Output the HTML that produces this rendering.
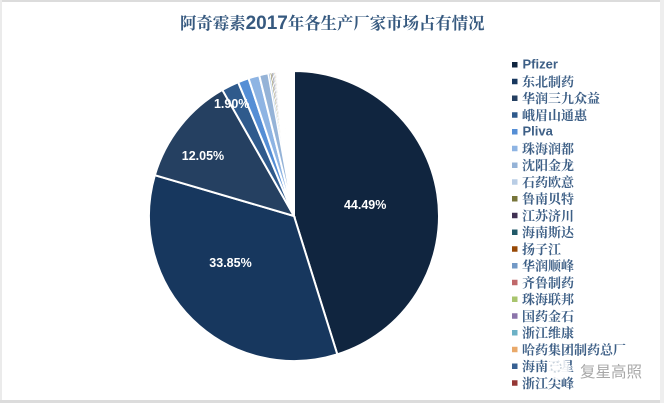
<!DOCTYPE html>
<html>
<head>
<meta charset="utf-8">
<style>
html,body{margin:0;padding:0;background:#fff;}
#chart{position:absolute;left:0;top:0;width:664px;height:403px;overflow:hidden;}
svg{display:block;}
</style>
</head>
<body>
<div id="chart">
<svg id="svg" width="664" height="403" viewBox="0 0 664 403" xmlns="http://www.w3.org/2000/svg">
  <rect x="0" y="0" width="664" height="403" fill="#ffffff"/>
  <rect x="0" y="0" width="664" height="2" fill="#dcdcdc"/>
  <rect x="0" y="0" width="2" height="403" fill="#ebebeb"/>
  <rect x="0" y="400" width="664" height="3" fill="#dcdcdc"/>
  <rect x="660" y="0" width="4" height="403" fill="#eeeeee"/>
  <text x="180" y="29" font-size="16.4" font-weight="700" fill="#36597f" font-family="'Liberation Sans','Noto Serif CJK SC',serif">阿奇霉素<tspan font-size="19">2017</tspan>年各生产厂家市场占有情况</text>
  <g id="slices"></g>
  <g id="labels"></g>
  <g id="legend"></g>
  <g>
    <circle cx="558" cy="369" r="11" fill="#ffffff" fill-opacity="0.85"/>
    <circle cx="556" cy="367" r="5" fill="none" stroke="#c9d3dc" stroke-width="1.5" stroke-dasharray="2 2"/>
    <text x="580" y="377" font-size="15.5" fill="#a8a8a8" font-family="'Noto Sans CJK SC',sans-serif">复星高照</text>
  </g>
</svg>
</div>
<script>
var categories = ["Pfizer","东北制药","华润三九众益","峨眉山通惠","Pliva","珠海润都","沈阳金龙","石药欧意","鲁南贝特","江苏济川","海南斯达","扬子江","华润顺峰","齐鲁制药","珠海联邦","国药金石","浙江维康","哈药集团制药总厂","海南三星","浙江尖峰"];
var shareValues = [44.49,33.85,12.05,1.90,1.20,1.20,1.00,0.20,0.17,0.15,0.13,0.12,0.11,0.10,0.10,0.10,0.09,0.09,0.08,0.06];
var unlistedShare = [1.30];
var printedLabels = ["44.49%","33.85%","12.05%","1.90%"];
var sliceColors = ["#10253f","#17375e","#254061","#2f5a8c","#558ed5","#8eb4e3","#95b3d7","#b9cde5","#77753a","#403152","#215968","#974806","#7299c6","#c0686a","#a9c56e","#8b74aa","#6cb1c6","#e9a96a","#376092","#953735"];

var SVGNS = "http://www.w3.org/2000/svg";
var CX = 294, CY = 216, R = 145, START_DEG = 0;
var LABEL_ANGLE_NUDGE = [0, 9, -5, -3];
var LABEL_RADIUS = [72, 79, 109, 128];
var totalShare = shareValues.concat(unlistedShare).reduce(function(a, b){ return a + b; }, 0);

function angleOf(share){ return share / totalShare * 360; }
function px(deg, r){ return CX + r * Math.sin(deg * Math.PI / 180); }
function py(deg, r){ return CY - r * Math.cos(deg * Math.PI / 180); }

var slicesGroup = document.getElementById("slices");
var labelsGroup = document.getElementById("labels");
var legendGroup = document.getElementById("legend");
var cursor = START_DEG;

shareValues.forEach(function(v, i){
  var sweep = angleOf(v);
  var a0 = cursor, a1 = cursor + sweep;
  var large = sweep > 180 ? 1 : 0;
  var path = document.createElementNS(SVGNS, "path");
  path.setAttribute("d", "M" + CX + " " + CY + " L" + px(a0, R) + " " + py(a0, R) + " A" + R + " " + R + " 0 " + large + " 1 " + px(a1, R) + " " + py(a1, R) + " Z");
  path.setAttribute("fill", sliceColors[i]);
  path.setAttribute("stroke", "#ffffff");
  path.setAttribute("stroke-width", i < 7 ? "2" : "0.9");
  
  
  slicesGroup.appendChild(path);

  if (i < printedLabels.length) {
    var mid = (a0 + a1) / 2 + LABEL_ANGLE_NUDGE[i];
    var label = document.createElementNS(SVGNS, "text");
    label.setAttribute("x", px(mid, LABEL_RADIUS[i]));
    label.setAttribute("y", py(mid, LABEL_RADIUS[i]) + 4);
    label.setAttribute("text-anchor", "middle");
    label.setAttribute("font-size", "12.5");
    label.setAttribute("font-weight", "700");
    label.setAttribute("fill", "#ffffff");
    label.setAttribute("font-family", "'Liberation Sans',sans-serif");
    
    
    label.textContent = printedLabels[i];
    labelsGroup.appendChild(label);
  }
  cursor = a1;
});

var LEGEND_TOP = 64.5, LEGEND_STEP = 16.75;
categories.forEach(function(name, i){
  var y = LEGEND_TOP + i * LEGEND_STEP;
  var swatch = document.createElementNS(SVGNS, "rect");
  swatch.setAttribute("x", 512);
  swatch.setAttribute("y", y - 2.5);
  swatch.setAttribute("width", 5.5);
  swatch.setAttribute("height", 5.5);
  swatch.setAttribute("fill", sliceColors[i]);
  
  
  legendGroup.appendChild(swatch);

  var text = document.createElementNS(SVGNS, "text");
  var latin = /^[A-Za-z]+$/.test(name);
  text.setAttribute("x", latin ? 522.5 : 522);
  text.setAttribute("y", y + (latin ? 4 : 5));
  text.setAttribute("font-size", latin ? "13" : "13");
  text.setAttribute("font-weight", "700");
  text.setAttribute("fill", "#3d5f86");
  text.setAttribute("font-family", "'Liberation Sans','Noto Serif CJK SC',serif");
  
  
  text.textContent = name;
  legendGroup.appendChild(text);
});
</script>
</body>
</html>
